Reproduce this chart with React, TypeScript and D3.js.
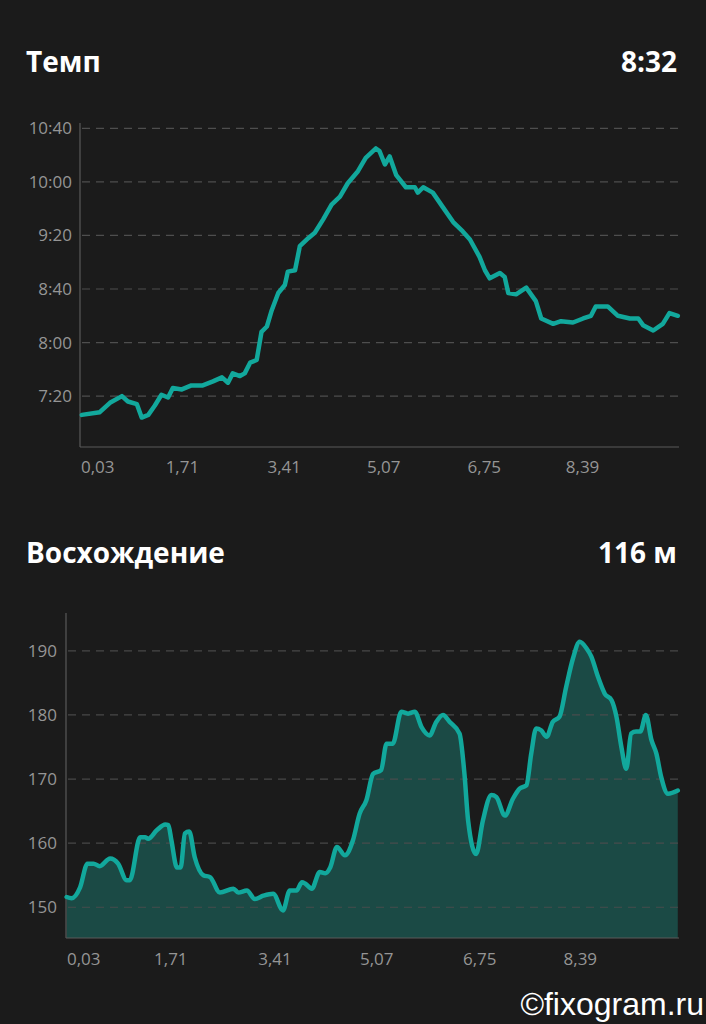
import React, { useEffect } from "react";
import * as d3 from "d3";

// ---------- data ----------
const paceKm = [0.03,0.33,0.5,0.7,0.8,0.95,1.03,1.14,1.25,1.36,1.47,1.55,1.7,1.86,2.05,2.22,2.37,2.47,2.55,2.67,2.75,2.84,2.95,3.03,3.12,3.2,3.31,3.42,3.47,3.59,3.67,3.81,3.92,4.06,4.2,4.34,4.47,4.64,4.77,4.94,5.0,5.09,5.17,5.28,5.44,5.59,5.64,5.73,5.89,6.06,6.23,6.39,6.51,6.67,6.76,6.84,7.01,7.09,7.15,7.28,7.45,7.61,7.7,7.9,8.03,8.23,8.4,8.53,8.61,8.81,8.98,9.18,9.32,9.4,9.57,9.73,9.84,9.98];
const paceSec = [426,428,435,440,436,434,424,426,433,441,439,446,445,448,448,451,454,450,457,455,457,465,467,488,492,504,517,523,533,534,552,558,562,572,583,589,599,608,618,625,623,613,619,605,596,596,592,596,592,581,570,563,557,544,534,528,532,529,517,516,521,511,498,494,496,495,498,500,507,507,500,498,498,493,489,494,502,500];
const paceTicks = [440, 480, 520, 560, 600, 640];

const elevKm = [0.01,0.09,0.23,0.35,0.45,0.55,0.72,0.85,0.99,1.04,1.21,1.29,1.34,1.48,1.62,1.67,1.72,1.81,1.87,1.94,2.01,2.1,2.24,2.35,2.51,2.73,2.81,2.95,3.08,3.22,3.38,3.54,3.65,3.76,3.85,3.9,4.01,4.14,4.23,4.31,4.42,4.55,4.68,4.79,4.9,5.01,5.14,5.23,5.33,5.47,5.58,5.69,5.8,5.93,6.04,6.15,6.26,6.42,6.5,6.56,6.69,6.8,6.94,7.02,7.16,7.29,7.4,7.51,7.59,7.67,7.75,7.84,7.94,8.05,8.16,8.27,8.38,8.49,8.57,8.68,8.79,8.9,8.98,9.06,9.14,9.22,9.3,9.37,9.46,9.55,9.63,9.71,9.82,9.98];
const elevM = [151.6,151.4,153.1,156.8,156.8,156.4,157.6,156.8,154.2,154.2,160.9,160.9,160.7,162,162.9,162.8,160.4,156.2,156.2,161.5,161.8,157.8,155,154.7,152.3,152.9,152.3,152.6,151.3,151.8,152.1,149.5,152.6,152.6,153.9,153.7,152.9,155.5,155.3,156.2,159.4,158.1,160.4,164.6,166.7,170.8,171.4,175.5,175.5,180.5,180.2,180.5,178.1,176.8,178.9,180,178.9,177.1,170.8,163.5,158.3,163.5,167.5,167.2,164.3,166.9,168.5,169,174,177.9,177.6,176.6,178.9,179.7,184.4,188.8,191.4,190.4,189.1,185.9,183.3,182.3,179.7,175,171.6,177.1,177.4,177.4,180,176.1,174,170.3,167.7,168.2];
const elevTicks = [150, 160, 170, 180, 190];

const distTicks = [0.03, 1.71, 3.41, 5.07, 6.75, 8.39];
const distLabels = ["0,03", "1,71", "3,41", "5,07", "6,75", "8,39"];

const paceTitle = "Темп";
const paceValue = "8:32";
const elevTitle = "Восхождение";
const elevValue = "116 м";
const watermark = "©fixogram.ru";

// ---------- styles ----------
const BG = "#1b1b1b";
const TEAL = "#12a89c";
const FILL = "#1b4a45";
const GRID = "#4e4e4e";
const AXIS = "#5a5a5a";
const LABEL = "#959595";
const FONT = "'Open Sans', 'Noto Sans', sans-serif";

const fmtPace = (s: number) => `${Math.floor(s / 60)}:${String(s % 60).padStart(2, "0")}`;

export default function App() {
  useEffect(() => {
    document.body.style.margin = "0";
    document.body.style.background = BG;
  }, []);

  const W = 706, H = 1024;

  // top chart
  const tx = d3.scaleLinear().domain([0, 10.0]).range([80, 679]);
  const ty = d3.scaleLinear().domain([402, 644]).range([447, 123]);
  const paceData = paceKm.map((k, i) => [k, paceSec[i]] as [number, number]);
  const paceLine = d3.line<[number, number]>().x(d => tx(d[0])).y(d => ty(d[1])).curve(d3.curveLinear);

  // bottom chart
  const bx = d3.scaleLinear().domain([0, 10.0]).range([66, 679]);
  const by = d3.scaleLinear().domain([145.2, 195.9]).range([938, 613]);
  const elevData = elevKm.map((k, i) => [k, elevM[i]] as [number, number]);
  const elevLine = d3.line<[number, number]>().x(d => bx(d[0])).y(d => by(d[1])).curve(d3.curveMonotoneX);
  const elevArea = d3.area<[number, number]>().x(d => bx(d[0])).y0(by(145.2)).y1(d => by(d[1])).curve(d3.curveMonotoneX);

  const xLabels = (x: d3.ScaleLinear<number, number>, baseline: number) =>
    distTicks.map((v, i) => (
      <text key={i} x={i === 0 ? x.range()[0] + 1 : x(v)} y={baseline} textAnchor={i === 0 ? "start" : "middle"}
        fill={LABEL} fontSize={17} fontFamily={FONT}>{distLabels[i]}</text>
    ));

  return (
    <svg width={W} height={H} style={{ display: "block", background: BG }}>
      <rect x={0} y={0} width={W} height={H} fill={BG} />

      {/* top header */}
      <text x={26} y={72} fill="#fff" fontSize={28} fontWeight={700} fontFamily={FONT}>{paceTitle}</text>
      <text x={677} y={72} fill="#fff" fontSize={28} fontWeight={700} fontFamily={FONT} textAnchor="end">{paceValue}</text>

      {/* top chart */}
      {paceTicks.map(t => (
        <g key={t}>
          <line x1={tx.range()[0] + 2} x2={tx.range()[1]} y1={ty(t)} y2={ty(t)} stroke={GRID} strokeWidth={1.2} strokeDasharray="8,6" />
          <text x={72} y={ty(t)} dy="0.35em" textAnchor="end" fill={LABEL} fontSize={17} fontFamily={FONT}>{fmtPace(t)}</text>
        </g>
      ))}
      <line x1={80} x2={80} y1={ty.range()[1]} y2={ty.range()[0]} stroke={AXIS} strokeWidth={1.2} />
      <line x1={80} x2={679} y1={ty.range()[0]} y2={ty.range()[0]} stroke={AXIS} strokeWidth={1.2} />
      <path d={paceLine(paceData) || ""} fill="none" stroke={TEAL} strokeWidth={4.5} strokeLinejoin="round" strokeLinecap="round" />
      {xLabels(tx, 473)}

      {/* bottom header */}
      <text x={26} y={563} fill="#fff" fontSize={28} fontWeight={700} fontFamily={FONT}>{elevTitle}</text>
      <text x={677} y={563} fill="#fff" fontSize={28} fontWeight={700} fontFamily={FONT} textAnchor="end">{elevValue}</text>

      {/* bottom chart */}
      <path d={elevArea(elevData) || ""} fill={FILL} />
      {elevTicks.map(t => (
        <g key={t}>
          <line x1={bx.range()[0] + 2} x2={bx.range()[1]} y1={by(t)} y2={by(t)} stroke={GRID} strokeOpacity={0.9} strokeWidth={1.2} strokeDasharray="8,6" />
          <text x={57} y={by(t)} dy="0.35em" textAnchor="end" fill={LABEL} fontSize={17} fontFamily={FONT}>{t}</text>
        </g>
      ))}
      <line x1={66} x2={66} y1={by.range()[1]} y2={by.range()[0]} stroke={AXIS} strokeWidth={1.2} />
      <line x1={66} x2={679} y1={by.range()[0]} y2={by.range()[0]} stroke={AXIS} strokeWidth={1.2} />
      <path d={elevLine(elevData) || ""} fill="none" stroke={TEAL} strokeWidth={4.5} strokeLinejoin="round" strokeLinecap="round" />
      {xLabels(bx, 965)}

      <text x={704} y={1015} textAnchor="end" fill="#fff" fontSize={32} fontFamily="'Liberation Sans', Arial, sans-serif">{watermark}</text>
    </svg>
  );
}
